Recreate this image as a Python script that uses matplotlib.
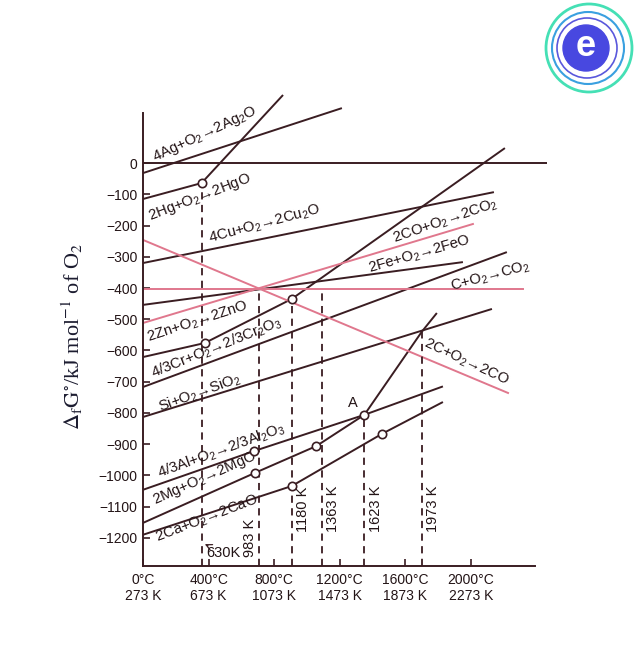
import matplotlib.pyplot as plt
from matplotlib.patches import Circle, Ellipse

plt.rcParams['font.family'] = ['Liberation Sans', 'DejaVu Sans']
plt.rcParams['mathtext.fontset'] = 'custom'
plt.rcParams['mathtext.rm'] = 'Liberation Sans'
plt.rcParams['mathtext.it'] = 'Liberation Sans:italic'
plt.rcParams['mathtext.bf'] = 'Liberation Sans:bold'

dark = '#3a1d22'
pink = '#e0778d'
txt = '#231416'

# temperature in K, delta G in kJ per mol O2
ag_T = [273, 1486]
ag_G = [-32, 176]
hg_T = [273, 630, 1127]
hg_G = [-115, -64, 218]
cu_T = [273, 2413]
cu_G = [-320, -93]
zero_T = [273, 2736]
zero_G = [0, 0]
zn_T = [273, 650, 1180, 2480]
zn_G = [-621, -576, -435, 48]
fe_T = [273, 2224]
fe_G = [-454, -317]
cr_T = [273, 2492]
cr_G = [-717, -285]
si_T = [273, 2401]
si_G = [-813, -467]
al_T = [273, 950, 1623, 2102]
al_G = [-1046, -922, -806, -715]
mg_T = [273, 955, 1330, 1623, 1973, 2065]
mg_G = [-1152, -992, -906, -806, -540, -480]
ca_T = [273, 1180, 1730, 2102]
ca_G = [-1190, -1034, -867, -765]

# carbon lines (pink)
co_co2_T = [273, 2285]
co_co2_G = [-512, -195]
c_co2_T = [273, 2590]
c_co2_G = [-403, -403]
c_co_T = [273, 2499]
c_co_G = [-246, -736]

# transition points (circles)
pt_T = [630, 650, 1180, 950, 955, 1330, 1623, 1180, 1730]
pt_G = [-64, -576, -435, -922, -992, -906, -806, -1034, -867]

# dashed verticals
dash_T = [630, 983, 1180, 1363, 1623, 1973]
dash_top = [-64, -403, -435, -403, -806, -540]
dash_labels = ['', '983 K', '1180 K', '1363 K', '1623 K', '1973 K']

y_ticks = [0, -100, -200, -300, -400, -500, -600, -700, -800, -900, -1000, -1100, -1200]
x_ticks = [273, 673, 1073, 1473, 1873, 2273]
x_labels = ['0°C\n273 K', '400°C\n673 K', '800°C\n1073 K',
            '1200°C\n1473 K', '1600°C\n1873 K', '2000°C\n2273 K']

fig = plt.figure(figsize=(6.41, 6.71), dpi=100)
ax = fig.add_axes([143/641, 105/671, 407/641, 476/671])
ax.set_xlim(273, 2755)
ax.set_ylim(-1290, 234)

for T, G in [(ag_T, ag_G), (hg_T, hg_G), (cu_T, cu_G), (zero_T, zero_G),
             (zn_T, zn_G), (fe_T, fe_G), (cr_T, cr_G), (si_T, si_G),
             (al_T, al_G), (mg_T, mg_G), (ca_T, ca_G)]:
    ax.plot(T, G, color=dark, lw=1.4, solid_capstyle='butt')

for T, G in [(co_co2_T, co_co2_G), (c_co2_T, c_co2_G), (c_co_T, c_co_G)]:
    ax.plot(T, G, color=pink, lw=1.4)

for T, top in zip(dash_T, dash_top):
    ax.plot([T, T], [-1290, top], color=dark, lw=1.3, ls=(0, (4, 3)))

ax.plot(pt_T, pt_G, 'o', ms=6, mfc='white', mec=dark, mew=1.2, ls='none', zorder=5)

# reaction labels
labels = [
    (r'4Ag+O$_\mathrm{2}$→2Ag$_\mathrm{2}$O', 651, 93, 25),
    (r'2Hg+O$_\mathrm{2}$→2HgO', 621, -109, 21),
    (r'4Cu+O$_\mathrm{2}$→2Cu$_\mathrm{2}$O', 1017, -195, 15),
    (r'2CO+O$_\mathrm{2}$→2CO$_\mathrm{2}$', 2114, -186, 19),
    (r'2Fe+O$_\mathrm{2}$→2FeO', 1962, -294, 16),
    (r'C+O$_\mathrm{2}$→CO$_\mathrm{2}$', 2389, -362, 15),
    (r'2Zn+O$_\mathrm{2}$→2ZnO', 608, -509, 18),
    (r'4/3Cr+O$_\mathrm{2}$→2/3Cr$_\mathrm{2}$O$_\mathrm{3}$', 718, -592, 22),
    (r'Si+O$_\mathrm{2}$→SiO$_\mathrm{2}$', 621, -736, 20),
    (r'2C+O$_\mathrm{2}$→2CO', 2243, -637, -25),
    (r'4/3Al+O$_\mathrm{2}$→2/3Al$_\mathrm{2}$O$_\mathrm{3}$', 749, -922, 20),
    (r'2Mg+O$_\mathrm{2}$→2MgO', 651, -1011, 24),
    (r'2Ca+O$_\mathrm{2}$→2CaO', 663, -1139, 21),
]
for s, x, y, rot in labels:
    ax.text(x, y, s, rotation=rot, rotation_mode='anchor', ha='center', va='center',
            fontsize=10.7, color=txt)

ax.text(1553, -768, 'A', ha='center', va='center', fontsize=10.5, color=txt)

for T, lab in zip(dash_T, dash_labels):
    if not lab:
        continue
    off = -55 if T == 983 else 68
    ax.text(T + off, -1107 if T != 983 else -1200, lab, rotation=90, ha='center',
            va='center', fontsize=10.5, color=txt)

ax.annotate('630K', xy=(650, -1220), xytext=(761, -1248), ha='center', va='center',
            fontsize=10.5, color=txt,
            arrowprops=dict(arrowstyle='->', color=dark, lw=0.9,
                            shrinkA=12, shrinkB=0))

ax.spines['top'].set_visible(False)
ax.spines['right'].set_visible(False)
ax.spines['left'].set_bounds(-1290, 160)
ax.spines['bottom'].set_bounds(273, 2663)
for sp in ['left', 'bottom']:
    ax.spines[sp].set_color(dark)
    ax.spines[sp].set_linewidth(1.4)

ax.set_yticks(y_ticks)
ax.set_yticklabels([str(v).replace('-', '−') for v in y_ticks])
ax.set_xticks(x_ticks)
ax.set_xticklabels(x_labels, linespacing=1.15)
ax.tick_params(axis='both', direction='in', length=5, width=1.2, color=dark,
               labelsize=10, labelcolor=txt)
ax.tick_params(axis='y', pad=4)
ax.tick_params(axis='x', pad=5)

fig.text(72/641, 1 - 337/671,
         r'$\Delta_\mathrm{f}\mathrm{G}^{\circ}$/kJ mol$^{-1}$ of O$_2$',
         rotation=90, ha='center', va='center', fontsize=16, color='#1c1c30',
         family='Liberation Serif', math_fontfamily='stix')

# logo
lax = fig.add_axes([540/641, 571/671, 100/641, 100/671])
lax.set_xlim(0, 100)
lax.set_ylim(0, 100)
lax.axis('off')
lax.add_patch(Ellipse((49, 52), 86, 88, fill=False, ec='#45e0b5', lw=2))
lax.add_patch(Circle((48, 52), 36, fill=False, ec='#3aa0e0', lw=1.5))
lax.add_patch(Circle((47, 52), 30, fill=False, ec='#5a58dc', lw=1.2))
lax.add_patch(Circle((46, 52), 23, color='#4848e0'))
lax.text(46, 53, 'e', ha='center', va='center', fontsize=26, fontweight='bold',
         color='white')

fig.savefig('out.png', dpi=100, facecolor='white')
